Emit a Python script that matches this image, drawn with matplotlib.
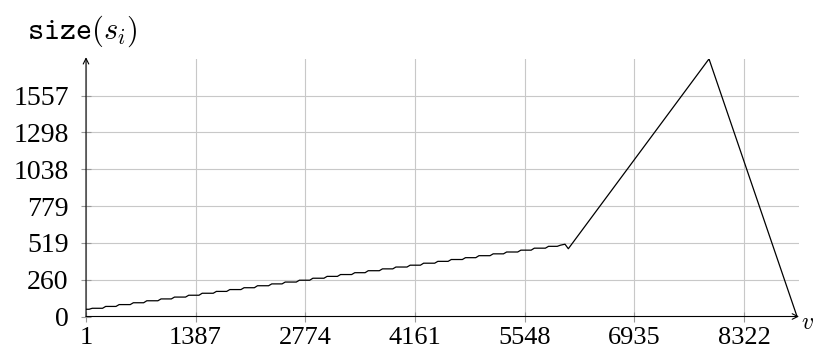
import matplotlib.pyplot as plt

# step corners of the slowly growing part
step_v = [1, 80, 250, 420, 600, 770, 950, 1120, 1300, 1470, 1650, 1820,
          2000, 2170, 2350, 2520, 2700, 2870, 3050, 3220, 3400, 3570, 3750,
          3920, 4100, 4270, 4450, 4620, 4800, 4970, 5150, 5320, 5500, 5670,
          5850, 6000]
step_size = [51, 58, 71, 84, 97, 111, 124, 137, 150, 164, 177, 190, 203,
             217, 230, 243, 256, 270, 283, 296, 309, 323, 336, 349, 362,
             376, 389, 402, 415, 429, 442, 455, 468, 482, 495, 503]

# dip, peak and drop at the end
tail_v = [6058, 6100, 7879, 8992]
tail_size = [510, 478, 1817, 0]

xticks = [1, 1387, 2774, 4161, 5548, 6935, 8322]
yticks = [0, 260, 519, 779, 1038, 1298, 1557]

plt.rcParams['mathtext.fontset'] = 'cm'

fig = plt.figure(figsize=(8.16, 3.53), dpi=100)
ax = fig.add_axes([86 / 816, 36.5 / 353, 713 / 816, 258 / 353])

xs = []
ys = []
for i in range(len(step_v)):
    if i > 0:
        xs.append(step_v[i] - 40)
        ys.append(step_size[i - 1])
    xs.append(step_v[i])
    ys.append(step_size[i])
xs += tail_v
ys += tail_size
ax.plot(xs, ys, color='black', lw=0.9, zorder=3)

ax.set_xlim(1, 9017)
ax.set_ylim(0, 1820)
ax.set_xticks(xticks)
ax.set_yticks(yticks)
ax.set_xticklabels([str(t) for t in xticks], family='Liberation Serif', fontsize=19)
ax.set_yticklabels([str(t) for t in yticks], family='Liberation Serif', fontsize=20)
ax.tick_params(direction='inout', length=7, width=0.8, color='#999999')
ax.tick_params(axis='x', pad=4)
ax.tick_params(axis='y', pad=9)
ax.grid(True, color='#c8c8c8', lw=0.8)
ax.set_axisbelow(True)

for s in ax.spines.values():
    s.set_visible(False)

ax.annotate('', xy=(1.0, 0), xytext=(0, 0), xycoords='axes fraction',
            arrowprops=dict(arrowstyle='->', color='black', lw=0.8,
                            shrinkA=0, shrinkB=0), annotation_clip=False)
ax.annotate('', xy=(0, 1.005), xytext=(0, 0), xycoords='axes fraction',
            arrowprops=dict(arrowstyle='->', color='black', lw=0.8,
                            shrinkA=0, shrinkB=0), annotation_clip=False)

fig.text(27 / 816, 1 - 31 / 353, r'$\mathtt{size}(s_i)$', fontsize=22,
         ha='left', va='center')
fig.text(801 / 816, 1 - 322 / 353, r'$v$', fontsize=17, ha='left', va='center')

fig.savefig('out.png', dpi=100)
